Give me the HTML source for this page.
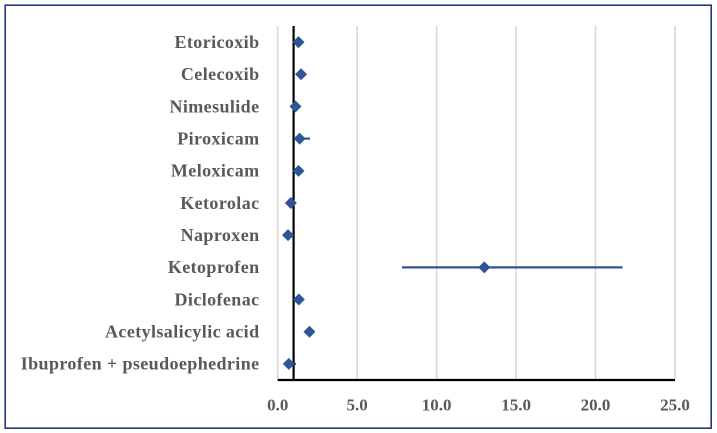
<!DOCTYPE html>
<html lang="en">
<head>
<meta charset="utf-8">
<title>Forest plot</title>
<style>
html,body{margin:0;padding:0;background:#fff;}
body{width:717px;height:433px;overflow:hidden;}
svg{display:block;}
text{font-family:"Liberation Serif",serif;font-weight:bold;fill:#595959;}
</style>
</head>
<body>
<svg id="chart" width="717" height="433" viewBox="0 0 717 433" xmlns="http://www.w3.org/2000/svg">
  <rect x="5.2" y="5.2" width="706" height="423" fill="#fff" stroke="#1f3a7c" stroke-width="1.6"/>
  <g id="grid"></g>
  <g id="labels"></g>
  <g id="ticks"></g>
  <g id="series"></g>
  <g id="axes"></g>
  <g id="points"></g>
</svg>
<script>
const categories = ["Etoricoxib","Celecoxib","Nimesulide","Piroxicam","Meloxicam","Ketorolac","Naproxen","Ketoprofen","Diclofenac","Acetylsalicylic acid","Ibuprofen + pseudoephedrine"];
const estimates = [1.31,1.47,1.12,1.38,1.31,0.83,0.65,13.0,1.33,2.0,0.7];
const lowerBounds = [1.2,1.35,1.0,1.2,1.2,0.7,0.55,7.82,1.25,1.9,0.45];
const upperBounds = [1.45,1.6,1.25,2.03,1.45,0.9,0.8,21.7,1.45,2.1,1.15];
const tickValues = [0,5,10,15,20,25];
const referenceValue = 1;

const NS = "http://www.w3.org/2000/svg";
const xMin = 0, xMax = 25;
const plotLeft = 277.7, plotRight = 675, plotTop = 26, plotBottom = 380;
function xScale(v){ return plotLeft + (v - xMin) / (xMax - xMin) * (plotRight - plotLeft); }
function yScale(i){ return plotTop + (i + 0.5) * (plotBottom - plotTop) / categories.length; }
function make(tag, attrs, parent){
  const el = document.createElementNS(NS, tag);
  for (const k in attrs) el.setAttribute(k, attrs[k]);
  parent.appendChild(el);
  return el;
}
const grid = document.getElementById("grid");
const ticks = document.getElementById("ticks");
const labels = document.getElementById("labels");
const series = document.getElementById("series");
const axes = document.getElementById("axes");
const points = document.getElementById("points");

tickValues.forEach(function(t){
  const line = make("line", {x1:xScale(t), x2:xScale(t), y1:plotTop, y2:plotBottom, stroke:"#d9d9d9", "stroke-width":1.6}, grid);
  
  
  const txt = make("text", {x:xScale(t), y:410.5, "text-anchor":"middle", "font-size":17}, ticks);
  txt.textContent = t.toFixed(1);
  
  
});

categories.forEach(function(c, i){
  const y = yScale(i);
  const txt = make("text", {x:259.5, y:y + 5.8, "text-anchor":"end", "font-size":18, "letter-spacing":0.4}, labels);
  txt.textContent = c;
  
  

  const ci = make("line", {x1:xScale(lowerBounds[i]), x2:xScale(upperBounds[i]), y1:y, y2:y, stroke:"#2f5597", "stroke-width":2.2}, series);
  
  
});

const xAxis = make("line", {x1:plotLeft, x2:plotRight, y1:plotBottom, y2:plotBottom, stroke:"#000", "stroke-width":2.2}, axes);


const refLine = make("line", {x1:xScale(referenceValue), x2:xScale(referenceValue), y1:plotTop, y2:plotBottom, stroke:"#000", "stroke-width":2.2}, axes);



categories.forEach(function(c, i){
  const cx = xScale(estimates[i]), cy = yScale(i), r = 6;
  const d = make("polygon", {points:[cx,cy-r,cx+r,cy,cx,cy+r,cx-r,cy].join(" "), fill:"#2f5597"}, points);
  
  
});
</script>
</body>
</html>
